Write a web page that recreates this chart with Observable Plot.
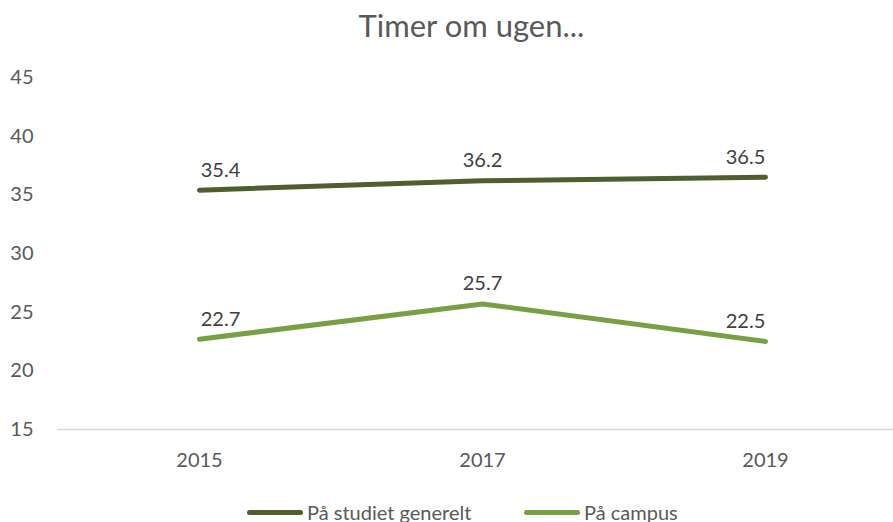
<!DOCTYPE html>
<html>
<head>
<meta charset="utf-8">
<script src="https://cdn.jsdelivr.net/npm/d3@7"></script>
<script src="https://cdn.jsdelivr.net/npm/@observablehq/plot@0.6"></script>
<style>
  html, body { margin: 0; padding: 0; background: #fff; }
  #wrap { position: relative; width: 893px; height: 522px; overflow: hidden; font-family: Lato, "Open Sans", sans-serif; }
  #title { position: absolute; left: 50px; right: 0; top: 6px; text-align: center; font-size: 31px; color: #595959; line-height: 38px; }
  #chart { position: absolute; left: 0; top: 50px; }
  #legend { position: absolute; left: 0; top: 497px; width: 893px; height: 30px; font-size: 20px; color: #595959; }
  .item { position: absolute; top: 0; display: flex; align-items: center; height: 30px; }
  .sw { width: 56px; height: 5px; border-radius: 3px; margin-right: 4px; }
</style>
</head>
<body>
<div id="wrap">
  <div id="title">Timer om ugen...</div>
  <div id="chart"></div>
  <div id="legend"></div>
</div>
<script>
const years = ["2015", "2017", "2019"];
const studiet = [35.4, 36.2, 36.5];
const campus = [22.7, 25.7, 22.5];
const seriesNames = ["På studiet generelt", "På campus"];
const colors = ["#4f5d2f", "#77a043"];
const yTicks = [15, 20, 25, 30, 35, 40, 45];

const data = years.flatMap((y, i) => [
  {year: y, value: studiet[i], series: seriesNames[0]},
  {year: y, value: campus[i], series: seriesNames[1]}
]);

const labelOpts = {x: "year", y: "value", text: d => d.value.toFixed(1), dy: -20, fill: "#404040", fontSize: 20};

const chart = Plot.plot({
  width: 893,
  height: 430,
  marginLeft: 57,
  marginRight: 0,
  marginTop: 27,
  marginBottom: 51,
  x: {type: "point", domain: years, range: [199, 765], padding: 0, label: null},
  y: {domain: [15, 45], label: null},
  color: {domain: seriesNames, range: colors},
  style: {fontFamily: "Lato, 'Open Sans', sans-serif", fontSize: "20px", color: "#595959", background: "#fff"},
  marks: [
    Plot.axisY({ticks: yTicks, tickSize: 0, tickPadding: 24, label: null}),
    Plot.axisX({tickSize: 0, tickPadding: 23, label: null}),
    Plot.ruleY([15], {stroke: "#d9d9d9", strokeWidth: 1.5}),
    Plot.line(data, {x: "year", y: "value", stroke: "series", z: "series", strokeWidth: 5, strokeLinecap: "round", strokeLinejoin: "round"}),
    Plot.text(data, {...labelOpts, filter: d => d.year === years[0], dx: 21}),
    Plot.text(data, {...labelOpts, filter: d => d.year === years[1]}),
    Plot.text(data, {...labelOpts, filter: d => d.year === years[2], dx: -20})
  ]
});
document.getElementById("chart").appendChild(chart);

const legend = document.getElementById("legend");
const lefts = [247, 524];
seriesNames.forEach((name, i) => {
  const item = document.createElement("div");
  item.className = "item";
  item.style.left = lefts[i] + "px";
  const sw = document.createElement("div");
  sw.className = "sw";
  sw.style.background = colors[i];
  const label = document.createElement("span");
  label.textContent = name;
  item.appendChild(sw);
  item.appendChild(label);
  legend.appendChild(item);
});
</script>
</body>
</html>
